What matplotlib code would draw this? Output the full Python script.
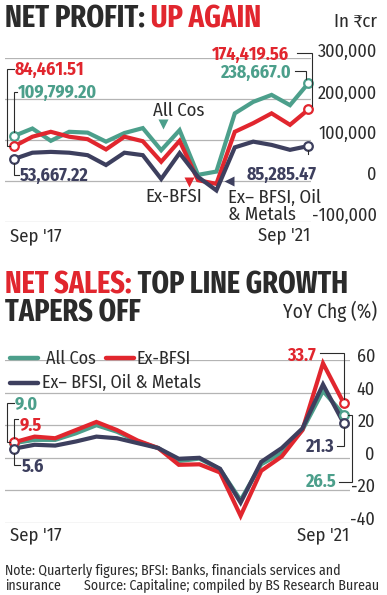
import matplotlib
matplotlib.use("Agg")
import matplotlib.pyplot as plt
import numpy as np

# ---------------- data ----------------
quarters = ["Sep '17", "Dec '17", "Mar '18", "Jun '18", "Sep '18", "Dec '18", "Mar '19", "Jun '19",
            "Sep '19", "Dec '19", "Mar '20", "Jun '20", "Sep '20", "Dec '20", "Mar '21", "Jun '21", "Sep '21"]
tick_labels = ["Sep '17", "Sep '21"]

profit_all_cos = [109799.20, 128000, 98000, 120000, 118000, 96000, 117000, 129000, 75000,
                  124000, 15000, 23000, 165000, 193000, 210000, 185000, 238667.0]
profit_ex_bfsi = [84461.51, 108000, 120000, 108000, 102000, 77000, 108000, 97000, 47000,
                  98000, 2000, -7000, 120000, 141000, 165000, 137000, 174419.56]
profit_ex_bfsi_oil = [53667.22, 69000, 71000, 69000, 63000, 39000, 69000, 63000, 5000,
                      68000, 10000, -23000, 82000, 96000, 88000, 76000, 85285.47]
profit_ticks = [-100000, 0, 100000, 200000, 300000]
profit_tick_labels = ["-100,000", "0", "100,000", "200,000", "300,000"]

sales_all_cos = [9.0, 11, 11, 15, 20, 16, 10, 6, -2, -0.5, -7, -26, -4, 3, 17, 41, 26.5]
sales_ex_bfsi = [9.5, 13, 12, 17, 22, 17, 10.6, 6, -4.3, -4, -9, -35.6, -8, 0.8, 17, 58, 33.7]
sales_ex_bfsi_oil = [5.6, 8, 7.5, 10, 13, 12, 9, 6, -0.6, 0, -6.7, -27.5, -2.5, 6, 18, 45, 21.3]
sales_ticks = [-40, -20, 0, 20, 40, 60]
sales_tick_labels = ["-40", "-20", "0", "20", "40", "60"]

series_names = ["All Cos", "Ex-BFSI", "Ex\u2013 BFSI, Oil & Metals"]

# ---------------- style ----------------
W, H = 387, 595
GREEN = "#4c9f8b"
RED = "#e1262e"
NAVY = "#3d3f5e"
DARK = "#2b2b2b"
GRID = "#b4b4b4"
FONT = ["Fira Sans Condensed", "DejaVu Sans"]
TFONT = ["Fira Sans Extra Condensed", "Fira Sans Condensed", "DejaVu Sans"]
plt.rcParams["font.family"] = FONT

fig = plt.figure(figsize=(W / 100, H / 100), dpi=100)


def add_px_axes(left, top, right, bottom):
    return fig.add_axes([left / W, 1 - bottom / H, (right - left) / W, (bottom - top) / H])


ov = fig.add_axes([0, 0, 1, 1], zorder=10)
ov.set_xlim(0, W)
ov.set_ylim(H, 0)
ov.set_axis_off()
ov.patch.set_alpha(0)


def px(ax, x, y):
    dx, dy = ax.transData.transform((x, y))
    return dx, H - dy


def style_axes(ax, ticks):
    for s in ax.spines.values():
        s.set_visible(False)
    ax.set_yticks(ticks)
    ax.set_xticks([])
    ax.tick_params(left=False, right=False, labelleft=False, labelright=False)
    ax.grid(axis="y", color=GRID, lw=0.9)
    ax.set_axisbelow(True)
    ax.patch.set_alpha(0)


def draw_series(ax, xs, data, lw):
    order = [(0, GREEN), (1, RED), (2, NAVY)]
    for i, c in order:
        ax.plot(xs, data[i], color=c, lw=lw, solid_joinstyle="miter", zorder=3 + i,
                clip_on=False)
        ax.plot([xs[0], xs[-1]], [data[i][0], data[i][-1]], ls="none", marker="o",
                ms=6.2, mfc="white", mec=c, mew=1.6, zorder=6 + i, clip_on=False)


def leader(points, color=DARK):
    xs, ys = zip(*points)
    ov.plot(xs, ys, color=color, lw=0.8, solid_joinstyle="miter", zorder=2)


def label(x, y, s, color, size=13, weight="bold", ha="left", family=None):
    ov.text(x, y, s, color=color, fontsize=size, fontweight=weight, ha=ha, va="baseline",
            family=family or FONT)


xs = np.arange(len(quarters))

# ================= NET PROFIT =================
ax1 = add_px_axes(5, 58, 311, 222)
ax1.set_xlim(-9 / 18.4, 16 + 2.6 / 18.4)
ax1.set_ylim(-100000, 300000)
style_axes(ax1, profit_ticks)
draw_series(ax1, xs, [profit_all_cos, profit_ex_bfsi, profit_ex_bfsi_oil], 3.0)

t1 = ov.text(5, 27, "NET PROFIT:", color=DARK, fontsize=22.3, fontweight="bold",
             family=TFONT, va="baseline")
ov.annotate(" UP AGAIN", xy=(1, 0), xycoords=t1, va="bottom", ha="left", color=RED,
            fontsize=22.3, fontweight="bold", family=TFONT)
ov.text(377, 27, "In \u20b9cr", color=DARK, fontsize=13.5, ha="right", va="baseline",
        family=["Fira Sans Condensed", "Noto Sans", "DejaVu Sans"])

for v, s in zip(profit_ticks, profit_tick_labels):
    _, y = px(ax1, 0, v)
    ov.text(377, y - 0.5, s, color=DARK, fontsize=13, ha="right", va="baseline")

xa, ya = px(ax1, 0, profit_all_cos[0])
xr, yr = px(ax1, 0, profit_ex_bfsi[0])
xn, yn = px(ax1, 0, profit_ex_bfsi_oil[0])
label(15, 75, f"{profit_ex_bfsi[0]:,.2f}", RED)
leader([(14, 69), (7, 69), (7, yr), (xr - 4, yr)])
label(18, 98, f"{profit_all_cos[0]:,.2f}", GREEN)
leader([(17, 92), (xa, 92), (xa, ya - 4)])
label(20, 181, f"{profit_ex_bfsi_oil[0]:,.2f}", NAVY)
leader([(xn, yn + 4), (xn, 175), (19, 175)])

xa, ya = px(ax1, 16, profit_all_cos[-1])
xr, yr = px(ax1, 16, profit_ex_bfsi[-1])
xn, yn = px(ax1, 16, profit_ex_bfsi_oil[-1])
label(212, 60, f"{profit_ex_bfsi[-1]:,.2f}", RED)
leader([(297, 53), (312, 53), (312, yr - 3)])
label(220, 78, f"{profit_all_cos[-1]:,.1f}", GREEN)
leader([(295, 71), (xa - 2, 71), (xa - 2, ya - 4)])
label(247, 180, f"{profit_ex_bfsi_oil[-1]:,.2f}", NAVY)
leader([(xn, yn + 4), (xn, yn + 8)])

label(153, 116, series_names[0], DARK, size=13.5, weight="normal")
ov.plot([163], [123.5], marker="v", ms=6.5, color=GREEN, mec="none", ls="none")
label(145, 202, series_names[1], DARK, size=13.5, weight="normal")
ov.plot([189], [182], marker="v", ms=6.5, color=RED, mec="none", ls="none")
label(228, 203, "Ex\u2013 BFSI, Oil", DARK, size=13.5, weight="normal")
label(228, 220, "& Metals", DARK, size=13.5, weight="normal")
ov.plot([229], [181], marker="<", ms=6.5, color=NAVY, mec="none", ls="none")

label(10, 241, tick_labels[0], DARK, size=13.5, weight="normal")
label(258, 240, tick_labels[1], DARK, size=13.5, weight="normal")

# ================= NET SALES =================
ax2 = add_px_axes(5, 360, 350, 523)
ax2.set_xlim(-9 / 20.6, 16 + 6.4 / 20.6)
ax2.set_ylim(-40, 60)
style_axes(ax2, sales_ticks)
draw_series(ax2, xs, [sales_all_cos, sales_ex_bfsi, sales_ex_bfsi_oil], 3.0)

t2 = ov.text(5, 294, "NET SALES:", color=RED, fontsize=22, fontweight="bold",
             family=TFONT, va="baseline")
ov.annotate(" TOP LINE GROWTH", xy=(1, 0), xycoords=t2, va="bottom", ha="left",
            color=DARK, fontsize=22, fontweight="bold", family=TFONT)
ov.text(5, 322, "TAPERS OFF", color=DARK, fontsize=22, fontweight="bold",
        family=TFONT, va="baseline")
ov.text(377, 318, "YoY Chg (%)", color=DARK, fontsize=14, ha="right", va="baseline")

for v, s in zip(sales_ticks, sales_tick_labels):
    _, y = px(ax2, 0, v)
    ov.text(375, y + 2, s, color=DARK, fontsize=13, ha="right", va="baseline")

# legend
ov.plot([10, 38], [358, 358], color=GREEN, lw=3.2, solid_capstyle="round")
label(46, 364, series_names[0], DARK, size=13, weight="normal")
ov.plot([106, 134], [358, 358], color=RED, lw=3.2, solid_capstyle="round")
label(137, 364, series_names[1], DARK, size=13, weight="normal")
ov.plot([10, 38], [383, 383], color=NAVY, lw=3.2, solid_capstyle="round")
label(42, 388, series_names[2], DARK, size=13, weight="normal")

xa, ya = px(ax2, 0, sales_all_cos[0])
xr, yr = px(ax2, 0, sales_ex_bfsi[0])
xn, yn = px(ax2, 0, sales_ex_bfsi_oil[0])
label(15, 410, f"{sales_all_cos[0]:.1f}", GREEN)
leader([(14, 403), (7, 403), (7, yr), (xr - 4, yr)])
label(20, 431, f"{sales_ex_bfsi[0]:.1f}", RED)
leader([(18, 419), (xr, 419), (xr, yr - 4)])
label(22, 472, f"{sales_ex_bfsi_oil[0]:.1f}", NAVY)
leader([(xn, yn + 4), (xn, 465), (20, 465)])

xa, ya = px(ax2, 16, sales_all_cos[-1])
xr, yr = px(ax2, 16, sales_ex_bfsi[-1])
xn, yn = px(ax2, 16, sales_ex_bfsi_oil[-1])
label(287, 361, f"{sales_ex_bfsi[-1]:.1f}", RED)
leader([(320, 353), (xr, 353), (xr, yr - 4)])
label(305, 452, f"{sales_ex_bfsi_oil[-1]:.1f}", NAVY)
leader([(xn, yn + 4), (xn, 446), (337, 446)])
label(305, 487, f"{sales_all_cos[-1]:.1f}", GREEN)
leader([(339, 482), (352, 482), (352, ya), (xa + 4, ya)])

label(10, 540, tick_labels[0], DARK, size=13.5, weight="normal")
label(297, 540, tick_labels[1], DARK, size=13.5, weight="normal")

# footer
ov.text(5, 575, "Note: Quarterly figures; BFSI: Banks, financials services and",
        color=DARK, fontsize=10, va="baseline")
ov.text(5, 590, "insurance", color=DARK, fontsize=10, va="baseline")
ov.text(84, 590, "Source: Capitaline; compiled by BS Research Bureau",
        color=DARK, fontsize=10, va="baseline")

fig.savefig("out.png", dpi=100)
